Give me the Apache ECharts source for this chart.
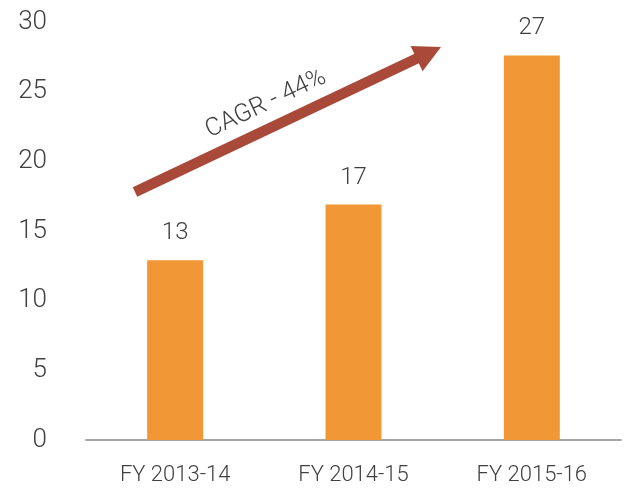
<!DOCTYPE html>
<html>
<head>
<meta charset="utf-8">
<title>CAGR chart</title>
<script src="https://cdn.jsdelivr.net/npm/echarts@6/dist/echarts.min.js"></script>
<style>
  html, body { margin: 0; padding: 0; background: #fff; }
  #main { width: 628px; height: 491px; }
</style>
</head>
<body>
<div id="main"></div>
<script>
// data
var categories = ['FY 2013-14', 'FY 2014-15', 'FY 2015-16'];
var values = [12.9, 16.9, 27.6];
var valueLabels = ['13', '17', '27'];
var yTicks = [0, 5, 10, 15, 20, 25, 30];
var cagrText = 'CAGR - 44%';

var FONT = 'Roboto, "Open Sans", sans-serif';
var chart = echarts.init(document.getElementById('main'));

chart.setOption({
  animation: false,
  grid: { left: 86, right: 7, top: 22, bottom: 51 },
  xAxis: {
    type: 'category',
    data: categories,
    axisLine: { lineStyle: { color: '#a6a6a6', width: 2 } },
    axisTick: { show: false },
    axisLabel: { color: '#404040', fontSize: 22, fontFamily: FONT, fontWeight: 300, margin: 24 }
  },
  yAxis: {
    type: 'value',
    min: yTicks[0],
    max: yTicks[yTicks.length - 1],
    interval: 5,
    splitLine: { show: false },
    axisLine: { show: false },
    axisTick: { show: false },
    axisLabel: {
      color: '#404040', fontSize: 26, fontFamily: FONT, fontWeight: 300, margin: 39,
      verticalAlign: 'middle', padding: [0, 0, 7, 0]
    }
  },
  series: [{
    type: 'bar',
    data: values,
    barWidth: 56,
    itemStyle: { color: '#f19735' },
    label: {
      show: true,
      position: 'top',
      distance: 15,
      color: '#404040',
      fontSize: 24,
      fontFamily: FONT,
      fontWeight: 300,
      formatter: function (p) { return valueLabels[p.dataIndex]; }
    }
  }]
});

// CAGR arrow, drawn as annotation over the plot
var x0 = 135, y0 = 192, x1 = 441, y1 = 47;
var ang = Math.atan2(y0 - y1, x1 - x0);
var ux = Math.cos(ang), uy = -Math.sin(ang);
var headLen = 27, headHalf = 14;
var bx = x1 - ux * headLen, by = y1 - uy * headLen;
var px = -uy, py = ux;
chart.setOption({
  graphic: [
    {
      type: 'line',
      shape: { x1: x0, y1: y0, x2: bx + ux * 2, y2: by + uy * 2 },
      style: { stroke: '#a9493a', lineWidth: 10.5 }
    },
    {
      type: 'polygon',
      shape: { points: [[x1, y1], [bx + px * headHalf, by + py * headHalf], [bx - px * headHalf, by - py * headHalf]] },
      style: { fill: '#a9493a' }
    },
    {
      type: 'text',
      x: 266, y: 104,
      rotation: ang,
      style: {
        text: cagrText,
        fill: '#404040',
        fontSize: 25,
        fontFamily: FONT,
        fontWeight: 300,
        align: 'center',
        verticalAlign: 'middle'
      }
    }
  ]
});
</script>
</body>
</html>
